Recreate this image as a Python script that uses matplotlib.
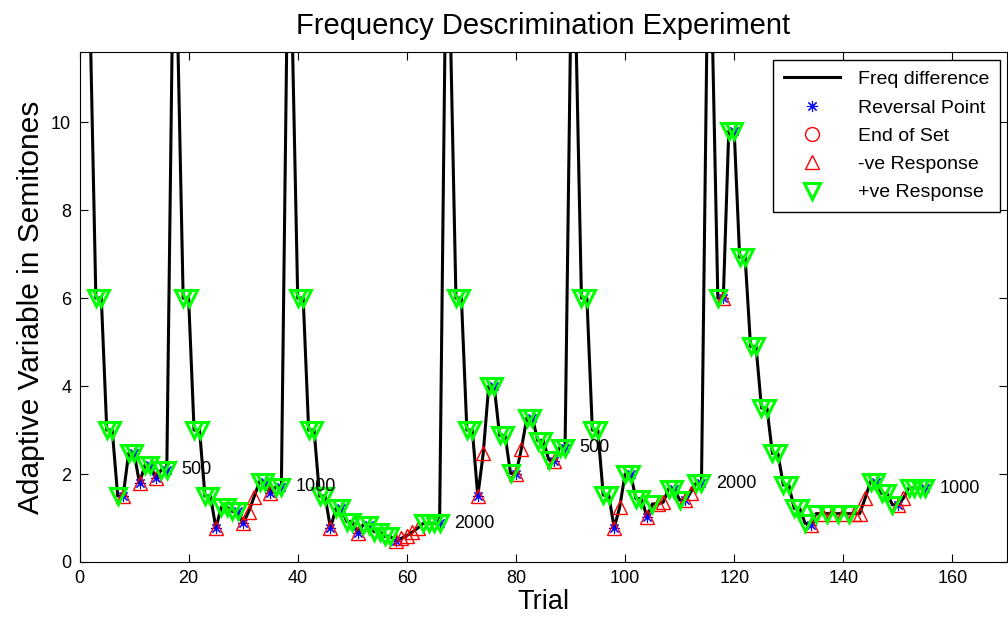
import numpy as np
import matplotlib
matplotlib.use("Agg")
from matplotlib import pyplot as plt

plt.rcParams['font.family'] = ['Liberation Sans', 'DejaVu Sans']

# adaptive variable (semitones) for each trial, trial number = position + 1
freq_diff = [
    # set 1 (500 Hz)
    12, 12, 6, 6, 3, 3, 1.5, 1.5, 2.47, 2.47, 1.8, 2.2, 2.2, 1.9, 2.1, 2.1,
    # set 2 (1000 Hz)
    12, 12, 6, 6, 3, 3, 1.5, 1.5, 0.77, 1.25, 1.25, 1.15, 1.15, 0.88, 1.14, 1.48,
    1.83, 1.83, 1.56, 1.71, 1.71,
    # set 3 (2000 Hz)
    12, 12, 6, 6, 3, 3, 1.5, 1.5, 0.77, 1.22, 1.22, 0.92, 0.92, 0.65, 0.85, 0.85,
    0.69, 0.69, 0.58, 0.58, 0.47, 0.54, 0.6, 0.68, 0.77, 0.88, 0.88, 0.88, 0.88,
    # set 4 (500 Hz)
    12, 12, 6, 6, 3, 3, 1.5, 2.47, 4.0, 4.0, 2.88, 2.88, 2.02, 2.0, 2.58, 3.28,
    3.28, 2.76, 2.76, 2.33, 2.3, 2.6, 2.6,
    # set 5 (2000 Hz)
    12, 12, 6, 6, 3, 3, 1.52, 1.52, 0.78, 1.24, 2.0, 2.0, 1.44, 1.44, 1.03, 1.32,
    1.32, 1.36, 1.67, 1.67, 1.41, 1.4, 1.58, 1.79, 1.79,
    # set 6 (1000 Hz)
    12, 12, 6, 6, 9.8, 9.8, 6.93, 6.93, 4.9, 4.9, 3.5, 3.5, 2.47, 2.47, 1.75, 1.75,
    1.22, 1.22, 0.88, 0.85, 1.1, 1.1, 1.1, 1.1, 1.1, 1.1, 1.1, 1.1, 1.1, 1.45,
    1.83, 1.83, 1.56, 1.56, 1.3, 1.3, 1.45, 1.68, 1.68, 1.68, 1.68,
]

# '+' = positive response, '-' = negative response, one string per set
response_sets = [
    "+++++++-++-++-++",
    "++++++++-++++---++-++",
    "++++++++-++++-++++++-----++++",
    "++++++--+++++--+++++-++",
    "++++++++--++++-+--+++--++",
    "+++-+++++++++++++++-+-+-+-+---+++++--++++",
]

reversal_trials = [8, 10, 11, 13, 14, 16,
                   25, 29, 30, 34, 35, 37,
                   46, 48, 51, 53, 58, 66,
                   73, 76, 80, 83, 87, 89,
                   98, 101, 104, 109, 111, 114,
                   118, 120, 134, 146, 150, 155]
set_start_trials = [1, 17, 38, 67, 90, 115]
set_end_trials = [16, 37, 66, 89, 114, 155]
set_freqs = ["500", "1000", "2000", "500", "2000", "1000"]

trials = np.arange(1, len(freq_diff) + 1)
values = np.array(freq_diff)
resp = np.array(list("".join(response_sets)))

fig = plt.figure(figsize=(10.08, 6.23), dpi=100)
ax = fig.add_axes([79.5 / 1008, 61 / 623, (1007 - 79.5) / 1008, (562 - 51.8) / 623])

line, = ax.plot(trials, values, color="black", lw=2.2, label="Freq difference")
rev_idx = np.array(reversal_trials) - 1
revs, = ax.plot(trials[rev_idx], values[rev_idx], ls="none", marker=(8, 2, 0),
                ms=8, color="blue", mew=0.8, label="Reversal Point")
end_idx = np.array(set_start_trials[1:]) - 1
ends, = ax.plot(trials[end_idx], values[end_idx], ls="none", marker="o", ms=10,
                mfc="none", mec="red", mew=1, label="End of Set")
neg = resp == "-"
negs, = ax.plot(trials[neg], values[neg], ls="none", marker="^", ms=10.5,
                mfc="none", mec="red", mew=1, label="-ve Response")
poss, = ax.plot(trials[~neg], values[~neg], ls="none", marker="v", ms=11.5,
                mfc="none", mec=(0, 1, 0), mew=2.2, label="+ve Response")

for t, f in zip(set_end_trials, set_freqs):
    ax.text(t + 2.7, values[t - 1], f, ha="left", va="center", fontsize=13)

ax.set_xlim(0, 170)
ax.set_ylim(0, 11.6)
ax.set_xticks(np.arange(0, 161, 20))
ax.set_yticks(np.arange(0, 11, 2))
ax.tick_params(direction="in", length=6, width=0.8, labelsize=13,
               top=True, right=True, pad=6)
ax.set_title("Frequency Descrimination Experiment", fontsize=21, pad=13)
ax.set_xlabel("Trial", fontsize=19.5, labelpad=1)
ax.set_ylabel("Adaptive Variable in Semitones", fontsize=21.5, labelpad=4)

leg = ax.legend(handles=[line, revs, ends, negs, poss], loc="upper right",
                bbox_to_anchor=(0.9925, 0.984), borderaxespad=0, fontsize=14,
                fancybox=False, edgecolor="black", framealpha=1,
                handlelength=2.9, handletextpad=0.9, labelspacing=0.55,
                borderpad=0.55)
leg.get_frame().set_linewidth(1)

fig.savefig("out.png", dpi=100)
